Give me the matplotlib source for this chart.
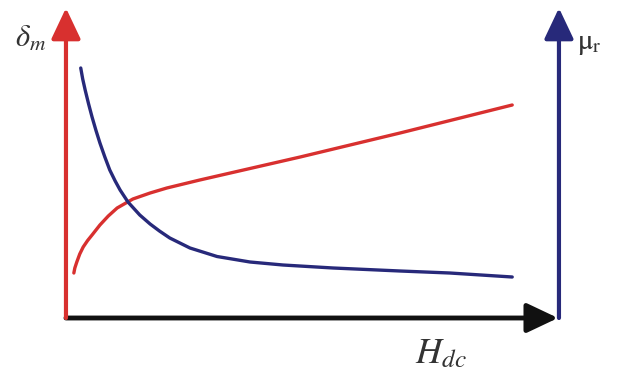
import numpy as np
import matplotlib

matplotlib.use("Agg")
import matplotlib.pyplot as plt

plt.rcParams["mathtext.fontset"] = "stix"

# (arbitrary units, origin at the axes corner)
H_red = [0.16, 0.18, 0.22, 0.28, 0.35, 0.44, 0.53, 0.69, 0.86, 1.04, 1.36, 1.71, 2.05, 2.72, 4.76, 6.79, 9.07]
d_red = [0.90, 1.00, 1.12, 1.28, 1.42, 1.55, 1.66, 1.86, 2.04, 2.20, 2.38, 2.50, 2.60, 2.76, 3.22, 3.70, 4.26]

H_blue = [0.30, 0.34, 0.39, 0.46, 0.53, 0.61, 0.69, 0.79, 0.89, 1.00, 1.10, 1.26, 1.50, 1.71, 1.90, 2.11,
          2.52, 3.07, 3.74, 4.41, 5.43, 6.79, 7.80, 9.07]
mu_blue = [5.00, 4.78, 4.56, 4.28, 4.02, 3.75, 3.50, 3.22, 2.96, 2.74, 2.56, 2.32, 2.06, 1.88, 1.74, 1.60,
           1.40, 1.23, 1.12, 1.06, 1.00, 0.94, 0.90, 0.82]

RED = "#d8302f"
BLUE = "#27297a"

fig = plt.figure(figsize=(6.18, 3.78), dpi=100)
ax = fig.add_axes([0, 0, 1, 1])
ax.set_xlim(-1.341, 11.22)
ax.set_ylim(-1.2, 6.36)
ax.axis("off")

ax.plot(H_red, d_red, color=RED, lw=2.4, solid_capstyle="round", solid_joinstyle="round")
ax.plot(H_blue, mu_blue, color=BLUE, lw=2.4, solid_capstyle="round", solid_joinstyle="round")

# axes with arrow heads
head = "-|>,head_length=0.95,head_width=0.45"
ax.annotate("", xy=(10.0, 0), xytext=(0, 0),
            arrowprops=dict(arrowstyle=head, lw=3.5, color="#111111",
                            mutation_scale=20, shrinkA=0, shrinkB=0))
ax.annotate("", xy=(0, 6.2), xytext=(0, 0),
            arrowprops=dict(arrowstyle=head, lw=3, color=RED,
                            mutation_scale=20, shrinkA=0, shrinkB=0))
ax.annotate("", xy=(10.02, 6.2), xytext=(10.02, 0),
            arrowprops=dict(arrowstyle=head, lw=3, color=BLUE,
                            mutation_scale=20, shrinkA=0, shrinkB=0))

ax.text(-0.72, 5.6, r"$\delta_m$", fontsize=22, color="#333333", ha="center", va="center")
ax.text(10.64, 5.5, r"$\mathrm{\mu_r}$", fontsize=21, color="#333333", ha="center", va="center")
ax.text(7.62, -0.7, r"$H_{dc}$", fontsize=26, color="#333333", ha="center", va="center")

fig.savefig("out.png", dpi=100)
